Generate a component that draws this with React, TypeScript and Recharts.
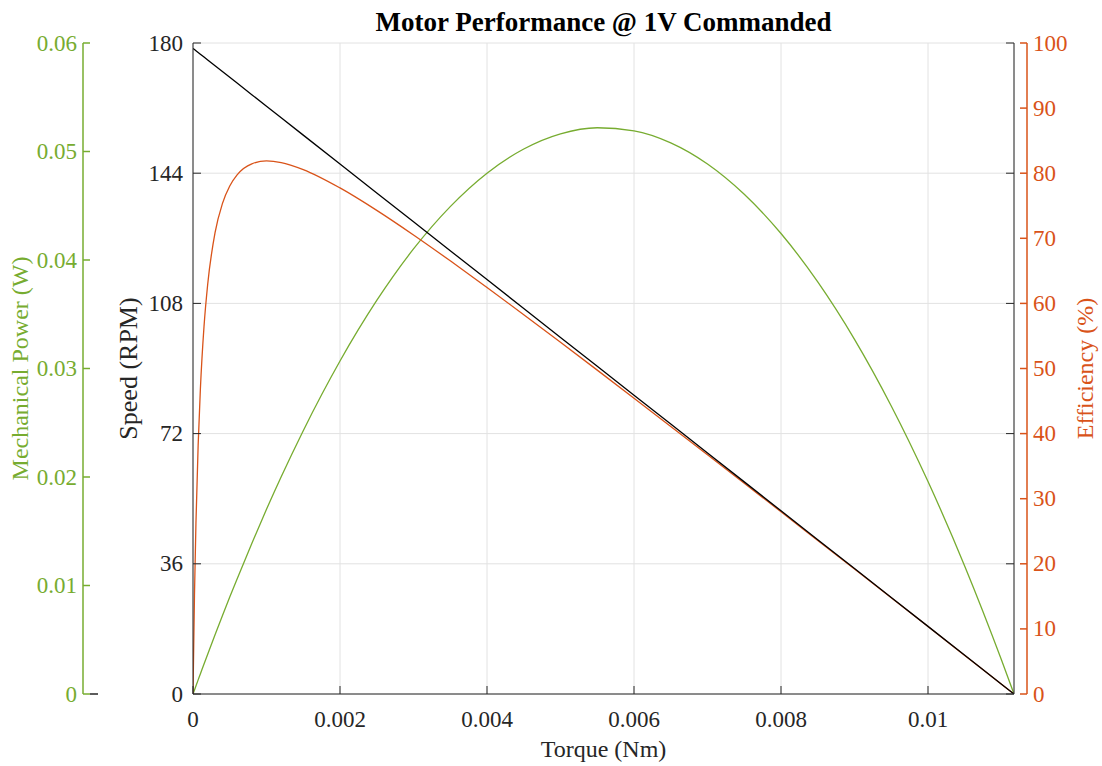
import { ComposedChart, Line, XAxis, YAxis, CartesianGrid } from 'recharts'

// torque samples (Nm)
const torque = [
  0, 0.00002, 0.00004, 0.00007, 0.0001, 0.00015, 0.0002, 0.0003, 0.0004, 0.0005, 0.0006, 0.0008,
  0.001, 0.0012, 0.0015, 0.002, 0.0025, 0.003, 0.0035, 0.004, 0.0045, 0.005, 0.0055, 0.006,
  0.0065, 0.007, 0.0075, 0.008, 0.0085, 0.009, 0.0095, 0.01, 0.0105, 0.011, 0.01117,
]
const speedRpm = [
  178.5, 178.18, 177.86, 177.38, 176.9, 176.1, 175.3, 173.71, 172.11, 170.51, 168.91, 165.72,
  162.52, 159.32, 154.53, 146.54, 138.55, 130.56, 122.57, 114.58, 106.59, 98.6, 90.61, 82.62,
  74.63, 66.64, 58.65, 50.66, 42.67, 34.68, 26.69, 18.7, 10.71, 2.72, 0,
]
const powerW = [
  0, 0.000373, 0.000745, 0.0013, 0.00185, 0.00277, 0.00367, 0.00546, 0.00721, 0.00893, 0.01061, 0.01388,
  0.01702, 0.02002, 0.02427, 0.03069, 0.03627, 0.04102, 0.04492, 0.048, 0.05023, 0.05163, 0.05219, 0.05191,
  0.0508, 0.04885, 0.04606, 0.04244, 0.03798, 0.03269, 0.02655, 0.01958, 0.01178, 0.00313, 0,
]
const efficiencyPct = [
  0, 15.12, 26.22, 38.22, 46.75, 56.48, 62.95, 70.86, 75.33, 78.04, 79.74, 81.44,
  81.88, 81.64, 80.56, 77.74, 74.29, 70.51, 66.54, 62.44, 58.26, 54.03, 49.75, 45.44,
  41.1, 36.74, 32.37, 27.99, 23.59, 19.19, 14.78, 10.36, 5.93, 1.51, 0,
]

const torqueTicks = [0, 0.002, 0.004, 0.006, 0.008, 0.01]
const speedTicks = [0, 36, 72, 108, 144, 180]
const powerTicks = [0, 0.01, 0.02, 0.03, 0.04, 0.05, 0.06]
const effTicks = [0, 10, 20, 30, 40, 50, 60, 70, 80, 90, 100]

const data = torque.map((t, i) => ({
  torque: t,
  speed: speedRpm[i],
  power: powerW[i],
  eff: efficiencyPct[i],
}))

const FONT = '"Liberation Serif", "Times New Roman", serif'
const DARK = '#262626'
const GREEN = '#77AC30'
const ORANGE = '#D95319'
const TICK_FS = 23
const LABEL_FS = 24
const TL = 8

const BottomTick = ({ x, y, payload }: any) => (
  <g>
    <line x1={x} y1={y} x2={x} y2={y - TL} stroke={DARK} />
    <text x={x} y={y + 25} textAnchor="middle" dominantBaseline="central" fill={DARK} fontSize={TICK_FS} fontFamily={FONT}>
      {String(payload.value)}
    </text>
  </g>
)

const TopTick = ({ x, y }: any) => <line x1={x} y1={y} x2={x} y2={y + TL} stroke={DARK} />

const SpeedTick = ({ x, y, payload }: any) => (
  <g>
    <line x1={x} y1={y} x2={x + TL} y2={y} stroke={DARK} />
    <text x={x - 10} y={y} textAnchor="end" dominantBaseline="central" fill={DARK} fontSize={TICK_FS} fontFamily={FONT}>
      {String(payload.value)}
    </text>
  </g>
)

const SpeedRightTick = ({ x, y }: any) => <line x1={x} y1={y} x2={x - TL} y2={y} stroke={DARK} />

const PowerTick = ({ x, y, payload }: any) => (
  <g>
    <line x1={x} y1={y} x2={x + 7} y2={y} stroke={GREEN} strokeWidth={1.5} />
    {payload.value === 0 && <line x1={x + 7} y1={y} x2={x + 15} y2={y} stroke={DARK} strokeWidth={1.5} />}
    <text x={x - 6} y={y} textAnchor="end" dominantBaseline="central" fill={GREEN} fontSize={TICK_FS} fontFamily={FONT}>
      {String(payload.value)}
    </text>
  </g>
)

const EffTick = ({ x, y, payload }: any) => (
  <g>
    <line x1={x} y1={y} x2={x - 7} y2={y} stroke={ORANGE} strokeWidth={1.5} />
    <text x={x + 6} y={y} textAnchor="start" dominantBaseline="central" fill={ORANGE} fontSize={TICK_FS} fontFamily={FONT}>
      {String(payload.value)}
    </text>
  </g>
)

const vLabel = (text: string, color: string, dx: number, size: number) => (props: any) => {
  const vb = props.viewBox
  const cx = vb.x + dx
  const cy = vb.y + vb.height / 2
  return (
    <text x={cx} y={cy} transform={`rotate(-90 ${cx} ${cy})`} textAnchor="middle" dominantBaseline="central" fill={color} fontSize={size} fontFamily={FONT}>
      {text}
    </text>
  )
}

const torqueLabel = (props: any) => {
  const vb = props.viewBox
  return (
    <text x={vb.x + vb.width / 2} y={vb.y + 55} textAnchor="middle" dominantBaseline="central" fill={DARK} fontSize={LABEL_FS} fontFamily={FONT}>
      Torque (Nm)
    </text>
  )
}

export default function App() {
  return (
    <div style={{ position: 'absolute', left: 0, top: 0, width: 1102, height: 766, background: '#fff' }}>
      <div
        style={{
          position: 'absolute',
          left: 193,
          width: 821,
          top: 6,
          textAlign: 'center',
          fontFamily: FONT,
          fontWeight: 'bold',
          fontSize: 27,
          lineHeight: '32px',
          color: '#000',
        }}
      >
        Motor Performance @ 1V Commanded
      </div>
      <ComposedChart width={1102} height={766} data={data} margin={{ top: 43, right: 0, bottom: 12, left: 0 }}>
        <CartesianGrid xAxisId="bottom" yAxisId="L1" stroke="#e2e2e2" strokeWidth={1} />
        <XAxis
          xAxisId="bottom"
          dataKey="torque"
          type="number"
          domain={[0, 0.01117]}
          allowDataOverflow
          ticks={torqueTicks}
          height={60}
          tickSize={0}
          tickMargin={0}
          tick={<BottomTick />}
          axisLine={{ stroke: DARK }}
          label={torqueLabel}
        />
        <XAxis
          xAxisId="top"
          orientation="top"
          dataKey="torque"
          type="number"
          domain={[0, 0.01117]}
          allowDataOverflow
          ticks={torqueTicks}
          height={0}
          tickSize={0}
          tickMargin={0}
          tick={<TopTick />}
          axisLine={{ stroke: DARK }}
        />
        <YAxis
          yAxisId="L1"
          orientation="left"
          type="number"
          domain={[0, 180]}
          allowDataOverflow
          ticks={speedTicks}
          width={110}
          tickSize={0}
          tickMargin={0}
          tick={<SpeedTick />}
          axisLine={{ stroke: DARK }}
          label={vLabel('Speed (RPM)', DARK, 45, 26)}
        />
        <YAxis
          yAxisId="L2"
          orientation="left"
          type="number"
          domain={[0, 0.06]}
          allowDataOverflow
          ticks={powerTicks}
          width={83}
          tickSize={0}
          tickMargin={0}
          tick={<PowerTick />}
          axisLine={{ stroke: GREEN, strokeWidth: 1.5 }}
          label={vLabel('Mechanical Power (W)', GREEN, 20, LABEL_FS)}
        />
        <YAxis
          yAxisId="R1"
          orientation="right"
          type="number"
          domain={[0, 180]}
          allowDataOverflow
          ticks={speedTicks}
          width={13}
          tickSize={0}
          tickMargin={0}
          tick={<SpeedRightTick />}
          axisLine={{ stroke: DARK }}
        />
        <YAxis
          yAxisId="R2"
          orientation="right"
          type="number"
          domain={[0, 100]}
          allowDataOverflow
          ticks={effTicks}
          width={75}
          tickSize={0}
          tickMargin={0}
          tick={<EffTick />}
          axisLine={{ stroke: ORANGE, strokeWidth: 1.5 }}
          label={vLabel('Efficiency (%)', ORANGE, 58, LABEL_FS)}
        />
        <Line xAxisId="bottom" yAxisId="L2" type="monotone" dataKey="power" stroke={GREEN} strokeWidth={1.3} dot={false} isAnimationActive={false} />
        <Line xAxisId="bottom" yAxisId="R2" type="monotone" dataKey="eff" stroke={ORANGE} strokeWidth={1.3} dot={false} isAnimationActive={false} />
        <Line xAxisId="bottom" yAxisId="L1" type="linear" dataKey="speed" stroke="#000" strokeWidth={1.3} dot={false} isAnimationActive={false} />
      </ComposedChart>
    </div>
  )
}
